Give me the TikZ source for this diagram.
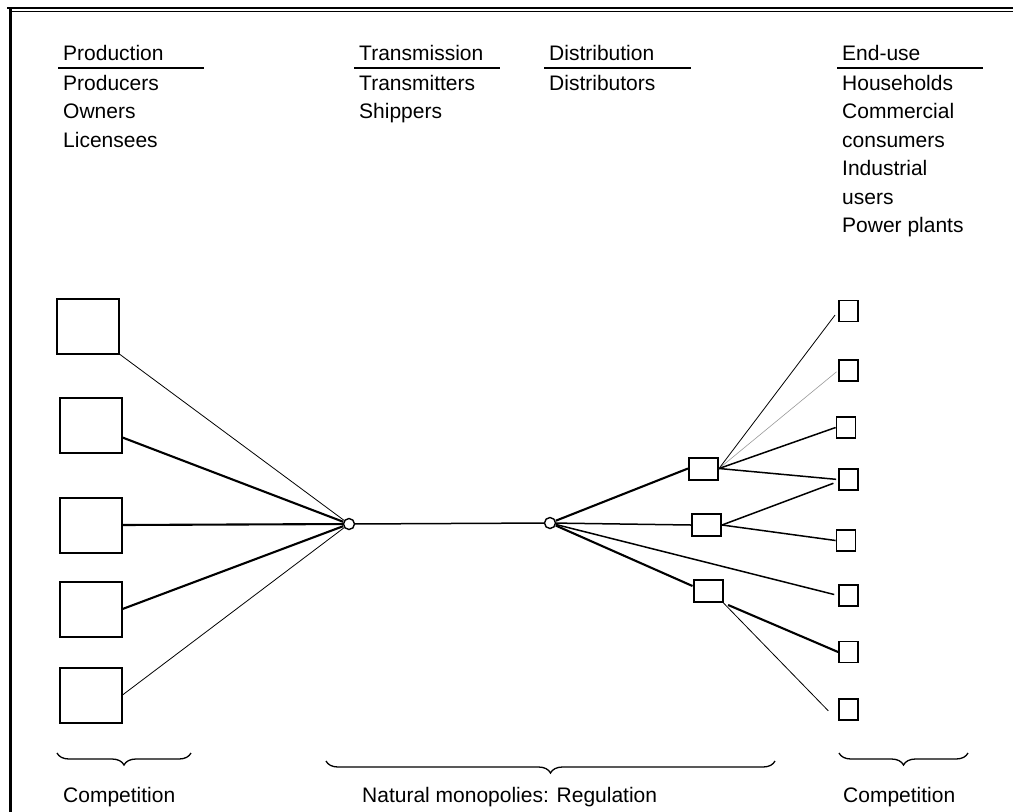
\documentclass[tikz,border=0pt]{standalone}
\usepackage{fontspec}
\setmainfont{Liberation Sans}
\usetikzlibrary{positioning, decorations.pathreplacing}

\begin{document}
\begin{tikzpicture}[x=1pt,y=-1pt,
  every node/.style={font=\fontsize{21}{28.5}\selectfont,inner sep=0pt},
  prod/.style={draw,line width=2pt,minimum width=62pt,minimum height=55pt},
  dist/.style={draw,line width=2pt,minimum width=29pt,minimum height=22pt},
  user/.style={draw,line width=1.8pt,minimum width=19pt,minimum height=21pt},
  hub/.style={circle,draw,fill=white,line width=1.4pt,minimum size=11pt},
  list/.style={anchor=base west,align=left},
  faint/.style={line width=0.6pt,black!40},
  light/.style={line width=0.8pt},
  medium/.style={line width=1.5pt},
  heavy/.style={line width=2.1pt},
  rule/.style={line width=1.8pt},
  brc/.style={decorate,decoration={brace,mirror,amplitude=12pt},line width=1.3pt}]
  \useasboundingbox (0,0) rectangle (1013,812);

  % frame
  \draw[line width=2pt] (7,8.3) -- (1013,8.3);
  \draw[line width=0.9pt] (12,11.3) -- (1013,11.3);
  \draw[line width=3pt] (10.5,7.3) -- (10.5,812);

  % headings (base = last line)
  \node[list] (prodhd)  at (63,60)  {Production};
  \node[list] (transhd) at (359,60) {Transmission};
  \node[list] (disthd)  at (549,60) {Distribution};
  \node[list] (usehd)   at (842,60) {End-use};
  \draw[rule] (58,68) -- (204,68);
  \draw[rule] (354,68) -- (500,68);
  \draw[rule] (544,68) -- (691,68);
  \draw[rule] (837,68) -- (983,68);

  \node[list] (prodls)  at (63,147)    {Producers\\Owners\\Licensees};
  \node[list] (transls) at (359,118.5) {Transmitters\\Shippers};
  \node[list] (distls)  at (549,90)    {Distributors};
  \node[list] (usels)   at (842,232.5) {Households\\Commercial\\consumers\\Industrial\\users\\Power plants};

  % producers
  \node[prod] (P1) at (88,326)    {};
  \node[prod] (P2) at (90.5,425.5) {};
  \node[prod] (P3) at (90.5,525)   {};
  \node[prod] (P4) at (90.5,609)   {};
  \node[prod] (P5) at (90.5,695)   {};

  % pipelines
  \node[hub] (H1) at (349,524) {};
  \node[hub] (H2) at (550,523) {};

  % distributors
  \node[dist] (D1) at (703.5,468.5) {};
  \node[dist] (D2) at (706.5,525)   {};
  \node[dist] (D3) at (708,591)     {};

  % end users
  \node[user] (E1) at (848.5,311)   {};
  \node[user] (E2) at (848.5,370.5) {};
  \node[user] (E3) at (846,427.5)   {};
  \node[user] (E4) at (848.5,479.5) {};
  \node[user] (E5) at (846,540.5)   {};
  \node[user] (E6) at (848.5,595.5) {};
  \node[user] (E7) at (848.5,652)   {};
  \node[user] (E8) at (848.5,709.5) {};

  \draw[light] (P1.south east) -- (H1);
  \draw[heavy] ([yshift=-12pt]P2.east) -- (H1);
  \draw[heavy] (P3.east) -- (H1);
  \draw[heavy] (P4.east) -- (H1);
  \draw[light] (P5.east) -- (H1);
  \draw[medium] (H1) -- (H2);

  \draw[heavy]  (H2) -- (D1.west);
  \draw[medium] (H2) -- (D2.west);
  \draw[medium,shorten >=4pt] (H2) -- (E6.west);
  \draw[heavy]  (H2) -- ([yshift=5pt]D3.west);

  \draw[light,shorten >=5pt] (D1.east) -- (E1.west);
  \draw[faint,shorten >=2pt] (D1.east) -- (E2.west);
  \draw[medium] (D1.east) -- (E3.west);
  \draw[medium,shorten >=2pt] (D1.east) -- (E4.west);
  \draw[medium,shorten >=5pt] (D2.east) -- ([yshift=-2pt]E4.west);
  \draw[medium] (D2.east) -- (E5.west);
  \draw[heavy,shorten <=5pt] (D3.south east) -- (E7.west);
  \draw[light,shorten >=14pt] (D3.south east) -- (E8.south west);

  % braces
  \coordinate (b1) at (57,753);
  \coordinate (b2) at (191,753);
  \coordinate (b3) at (326,761);
  \coordinate (b4) at (775,761);
  \coordinate (b5) at (839,753);
  \coordinate (b6) at (968,753);
  \draw[brc] (b1) -- (b2);
  \draw[brc] (b3) -- (b4);
  \draw[brc] (b5) -- (b6);

  \node[list] (comp1) at (63,802)  {Competition};
  \node[list] (regul) at (362,802) {Natural monopolies: Regulation};
  \node[list] (comp2) at (843,802) {Competition};
\end{tikzpicture}
\end{document}
